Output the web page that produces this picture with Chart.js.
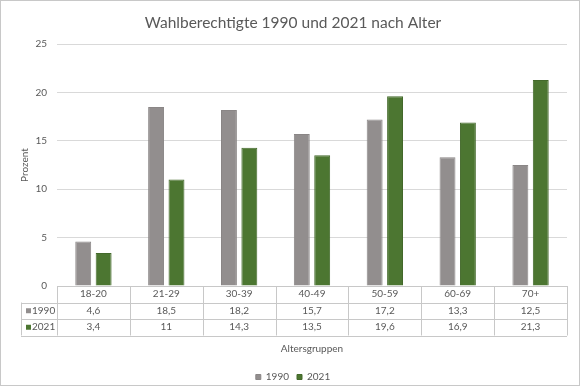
<!DOCTYPE html>
<html>
<head>
<meta charset="utf-8">
<script src="https://cdn.jsdelivr.net/npm/chart.js@4"></script>
<style>
  body { margin: 0; background: #fff; }
  #rahmen { width: 578px; height: 384px; border: 1px solid #c8c8c8; }
  canvas { display: block; }
</style>
</head>
<body>
<div id="rahmen"><canvas id="grafik" width="578" height="384"></canvas></div>
<script>
// Daten aus dem Diagramm
const altersgruppen = ['18-20', '21-29', '30-39', '40-49', '50-59', '60-69', '70+'];
const werte1990 = [4.6, 18.5, 18.2, 15.7, 17.2, 13.3, 12.5];
const werte2021 = [3.4, 11, 14.3, 13.5, 19.6, 16.9, 21.3];
const yTicks = [0, 5, 10, 15, 20, 25];

const schrift = 'Lato, "Open Sans", sans-serif';
const textFarbe = '#595959';
const linienFarbe = '#c8c8c8';

// Datentabelle unter der Achse zeichnen (wie in Excel)
const datenTabelle = {
  id: 'datenTabelle',
  afterDraw(chart) {
    const ctx = chart.ctx;
    const x = chart.scales.x;
    const oben = chart.chartArea.bottom;
    const zeile = 16.5;
    const links = x.left;
    const rechts = x.right;
    const breite = (rechts - links) / altersgruppen.length;
    const labelLinks = 20;

    ctx.save();
    ctx.strokeStyle = linienFarbe;
    ctx.lineWidth = 1;
    ctx.beginPath();
    // horizontale Linien
    ctx.moveTo(links, oben + 0.5); ctx.lineTo(rechts, oben + 0.5);
    for (let r = 1; r <= 3; r++) {
      const y = Math.round(oben + r * zeile) + 0.5;
      ctx.moveTo(labelLinks, y); ctx.lineTo(rechts, y);
    }
    // vertikale Linien
    for (let i = 0; i <= altersgruppen.length; i++) {
      const xx = Math.round(links + i * breite) + 0.5;
      ctx.moveTo(xx, oben); ctx.lineTo(xx, oben + 3 * zeile);
    }
    ctx.moveTo(labelLinks + 0.5, oben + zeile); ctx.lineTo(labelLinks + 0.5, oben + 3 * zeile);
    ctx.stroke();

    ctx.font = '10px ' + schrift;
    ctx.textBaseline = 'middle';
    const reihen = [werte1990, werte2021];
    chart.data.datasets.forEach((ds, r) => {
      const ym = oben + (r + 1.5) * zeile;
      ctx.fillStyle = ds.backgroundColor;
      ctx.fillRect(labelLinks + 5, ym - 2.5, 5, 5);
      ctx.fillStyle = textFarbe;
      ctx.textAlign = 'left';
      ctx.fillText(ds.label, labelLinks + 11, ym);
      ctx.textAlign = 'center';
      reihen[r].forEach((v, i) => {
        ctx.fillText(String(v).replace('.', ','), x.getPixelForValue(i), ym);
      });
    });
    ctx.restore();
  }
};

new Chart(document.getElementById('grafik'), {
  type: 'bar',
  data: {
    labels: altersgruppen,
    datasets: [
      { label: '1990', data: werte1990, backgroundColor: '#928e8e', borderColor: '#8a8686', borderWidth: 1 },
      { label: '2021', data: werte2021, backgroundColor: '#4c7631', borderColor: '#43692b', borderWidth: 1 }
    ]
  },
  options: {
    responsive: false,
    animation: false,
    layout: { padding: { left: 18, right: 12, top: 0, bottom: -7 } },
    datasets: { bar: { categoryPercentage: 0.56, barPercentage: 0.78 } },
    scales: {
      x: {
        grid: { display: false, drawTicks: false },
        border: { display: false },
        ticks: { color: textFarbe, font: { family: schrift, size: 10 }, padding: 2, maxRotation: 0 },
        title: { display: true, text: 'Altersgruppen', color: textFarbe, font: { family: schrift, size: 10 }, padding: { top: 41, bottom: 9 } }
      },
      y: {
        min: 0,
        max: 25,
        afterFit(scale) { scale.width = 38; },
        afterBuildTicks(scale) { scale.ticks = yTicks.map(v => ({ value: v })); },
        grid: { color: '#d9d9d9', drawTicks: false },
        border: { display: false },
        ticks: { color: textFarbe, font: { family: schrift, size: 10 }, padding: 10 },
        title: { display: true, text: 'Prozent', color: textFarbe, font: { family: schrift, size: 10 }, padding: { top: 0, bottom: 6 } }
      }
    },
    plugins: {
      title: {
        display: true,
        text: 'Wahlberechtigte 1990 und 2021 nach Alter',
        color: textFarbe,
        font: { family: schrift, size: 15.5, weight: 'normal' },
        padding: { top: 13, bottom: 11.5 }
      },
      legend: {
        position: 'bottom',
        labels: { color: textFarbe, font: { family: schrift, size: 10 }, boxWidth: 5, boxHeight: 5, padding: 8 }
      },
      tooltip: { enabled: false }
    }
  },
  plugins: [datenTabelle]
});
</script>
</body>
</html>
